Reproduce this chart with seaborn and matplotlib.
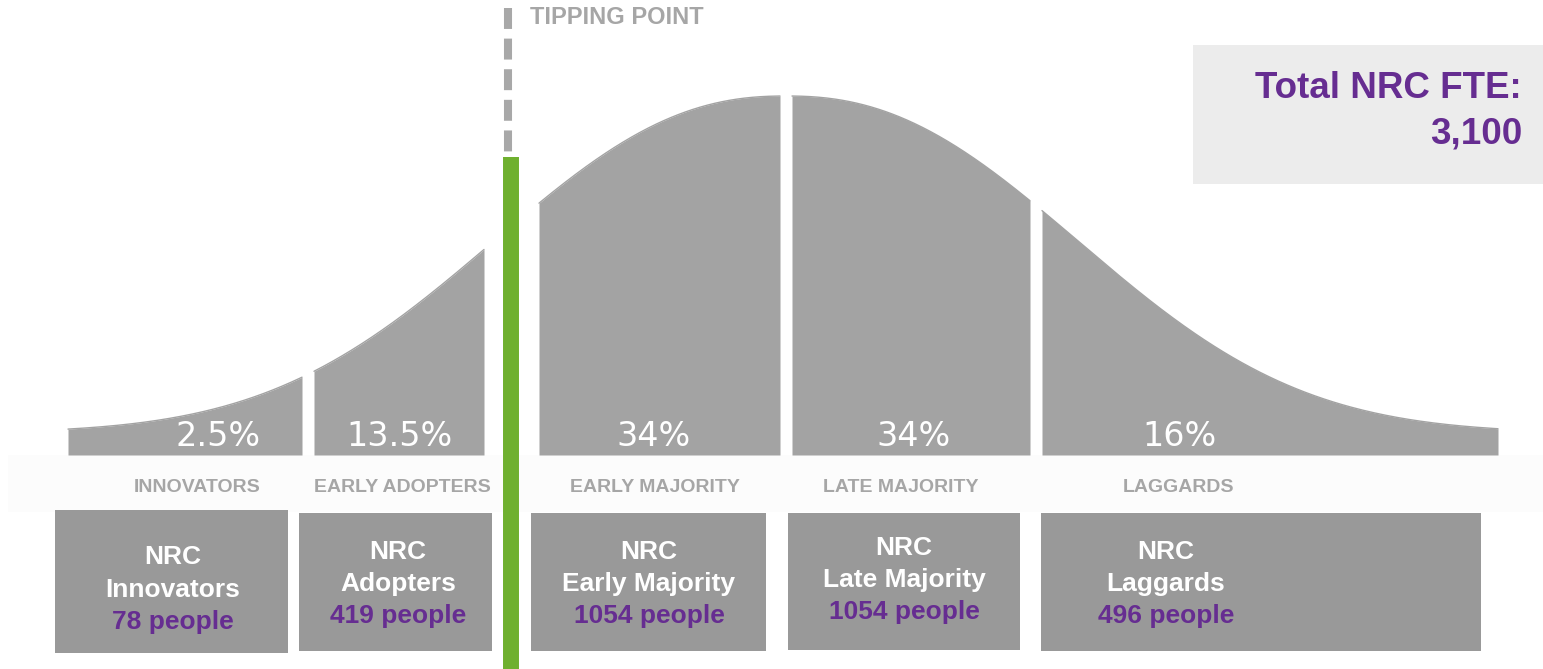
import numpy as np
import pandas as pd
import matplotlib
matplotlib.use("Agg")
import matplotlib.pyplot as plt
from matplotlib.patches import Rectangle
import seaborn as sns

# ---------------- data ----------------
segments = ["INNOVATORS", "EARLY ADOPTERS", "EARLY MAJORITY", "LATE MAJORITY", "LAGGARDS"]
shares = ["2.5%", "13.5%", "34%", "34%", "16%"]
group_names = ["Innovators", "Adopters", "Early Majority", "Late Majority", "Laggards"]
people = [78, 419, 1054, 1054, 496]
total_label = "Total NRC FTE:"
total_value = "3,100"
tipping_label = "TIPPING POINT"

# ---------------- layout (pixel coordinates) ----------------
W, H = 1543, 669
seg_x = [(68, 302), (314, 484), (539, 780), (792, 1030), (1042, 1498)]
share_x = [218, 400, 654, 914, 1179]
cat_x = [197, 402, 655, 901, 1178]
box_rects = [(55, 510, 233, 143), (299, 513, 193, 138), (531, 513, 235, 138),
             (788, 513, 232, 137), (1041, 513, 440, 138)]
box_text_x = [173, 398, 649, 904, 1166]
box_text_y = [(557, 590, 622), (552, 584, 616), (552, 584, 616),
              (548, 580, 612), (552, 584, 616)]
baseline = 455
center, spread, shape_p, floor_h, peak_h = 786, 375, 2.3, 22, 359

CURVE = "#a3a3a3"
BOXG = "#999999"
TXTG = "#a6a6a6"
PURPLE = "#662d91"
GREEN = "#6fb02f"

sns.set_theme(style="white")
plt.rcParams['font.family'] = ['Liberation Sans', 'DejaVu Sans']

fig = plt.figure(figsize=(W / 100, H / 100), dpi=100)
ax = fig.add_axes([0, 0, 1, 1])

# light band behind category labels
ax.add_patch(Rectangle((8, baseline), W - 8, 57, color="#fcfcfc", lw=0, zorder=0))

# bell curve segments
rows = []
for name, (x0, x1) in zip(segments, seg_x):
    xs = np.linspace(x0, x1, 200)
    h = floor_h + (peak_h - floor_h) * np.exp(-(np.abs(xs - center) / spread) ** shape_p)
    for xv, hv in zip(xs, h):
        rows.append({"segment": name, "x": xv, "y": baseline - hv})
curve = pd.DataFrame(rows)
sns.lineplot(data=curve, x="x", y="y", hue="segment", palette=[CURVE] * 5,
             legend=False, linewidth=1, ax=ax, sort=False, estimator=None)
for name in segments:
    d = curve[curve.segment == name]
    ax.fill_between(d.x, d.y, baseline, color=CURVE, lw=0, zorder=1)
ax.set_xlim(0, W)
ax.set_ylim(H, 0)
ax.axis("off")

# percentage labels
for s, x in zip(shares, share_x):
    ax.text(x, 436, s, color="white", fontsize=24, family="DejaVu Sans",
            ha="center", va="center", zorder=3)

# category labels
for c, x in zip(segments, cat_x):
    ax.text(x, 487, c, color=TXTG, fontsize=14, fontweight="bold",
            ha="center", va="center", zorder=3)

# tipping point
ax.plot([508, 508], [8, 152], color="#a8a8a8", lw=5.8, dashes=(2.6, 1.2),
        solid_capstyle="butt", dash_capstyle="butt", zorder=2)
ax.plot([511, 511], [157, H], color=GREEN, lw=11.5, solid_capstyle="butt", zorder=4)
ax.text(530, 18, tipping_label, color=TXTG, fontsize=17, fontweight="bold",
        ha="left", va="center")

# total box
ax.add_patch(Rectangle((1193, 45), W - 1193, 139, color="#ececec", lw=0, zorder=1))
ax.text(1522, 88, total_label, color=PURPLE, fontsize=26.5, fontweight="bold",
        ha="right", va="center", zorder=3)
ax.text(1522, 134, total_value, color=PURPLE, fontsize=26.5, fontweight="bold",
        ha="right", va="center", zorder=3)

# group boxes
for (bx, by, bw, bh), name, n, tx, (y1, y2, y3) in zip(box_rects, group_names, people,
                                                      box_text_x, box_text_y):
    ax.add_patch(Rectangle((bx, by), bw, bh, color=BOXG, lw=0, zorder=1))
    ax.text(tx, y1, "NRC", color="white", fontsize=19, fontweight="bold",
            ha="center", va="center", zorder=3)
    ax.text(tx, y2, name, color="white", fontsize=19, fontweight="bold",
            ha="center", va="center", zorder=3)
    ax.text(tx, y3, f"{n} people", color=PURPLE, fontsize=19, fontweight="bold",
            ha="center", va="center", zorder=3)

fig.savefig("out.png", dpi=100, facecolor="white")
